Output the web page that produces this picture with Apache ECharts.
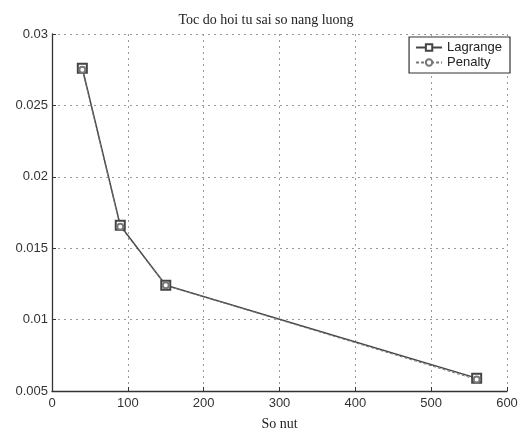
<!DOCTYPE html>
<html>
<head>
<meta charset="utf-8">
<script src="https://cdn.jsdelivr.net/npm/echarts@6/dist/echarts.min.js"></script>
<style>
  html, body { margin: 0; padding: 0; background: #fff; }
  #chart { width: 532px; height: 436px; }
</style>
</head>
<body>
<div id="chart"></div>
<script>
// so nut (number of nodes)
var soNut = [40, 90, 150, 560];
var lagrange = [0.0276, 0.0166, 0.0124, 0.0059];
var penalty = [0.0275, 0.0165, 0.0124, 0.0058];
var yTicks = [0.005, 0.01, 0.015, 0.02, 0.025, 0.03];

const toPairs = (xs, ys) => xs.map((x, i) => [x, ys[i]]);

const getOption = () => {
  return {
    backgroundColor: '#fff',
    animation: false,
    title: {
      text: 'Toc do hoi tu sai so nang luong',
      left: 'center',
      top: 8,
      textStyle: { fontFamily: 'Liberation Serif', fontSize: 14, fontWeight: 'normal', color: '#222' }
    },
    legend: {
      right: 22,
      top: 37,
      orient: 'vertical',
      itemGap: 2,
      itemWidth: 26,
      itemHeight: 8,
      padding: [4, 8, 4, 6],
      borderColor: '#333',
      borderWidth: 1.2,
      backgroundColor: '#fff',
      textStyle: { fontFamily: 'Liberation Sans', fontSize: 13, color: '#222' },
      data: ['Lagrange', 'Penalty']
    },
    grid: { left: 52, right: 25, top: 34, bottom: 42 },
    xAxis: {
      type: 'value',
      min: 0,
      max: 600,
      interval: 100,
      name: 'So nut',
      nameLocation: 'middle',
      nameGap: 26,
      nameTextStyle: { fontFamily: 'Liberation Serif', fontSize: 14, color: '#222' },
      axisLine: { lineStyle: { color: '#333', width: 1.3 } },
      axisTick: { inside: true, length: 4, lineStyle: { color: '#333' } },
      axisLabel: { fontFamily: 'Liberation Sans', fontSize: 13, color: '#333', margin: 6 },
      splitLine: { show: true, lineStyle: { color: '#999', type: [2, 4], width: 1 } }
    },
    yAxis: {
      type: 'value',
      min: 0.005,
      max: 0.03,
      interval: 0.005,
      axisLine: { show: true, lineStyle: { color: '#333', width: 1.3 } },
      axisTick: { show: true, inside: true, length: 4, lineStyle: { color: '#333' } },
      axisLabel: {
        fontFamily: 'Liberation Sans', fontSize: 13, color: '#333', margin: 4,
        formatter: v => {
          var t = yTicks.find(k => Math.abs(k - v) < 1e-9);
          return t === undefined ? '' : String(+t.toFixed(3));
        }
      },
      splitLine: { show: true, lineStyle: { color: '#999', type: [2, 4], width: 1 } }
    },
    series: [
      {
        name: 'Lagrange',
        type: 'line',
        data: toPairs(soNut, lagrange),
        symbol: 'emptyRect',
        symbolSize: 9,
        lineStyle: { color: '#444', width: 1.5 },
        itemStyle: { color: '#444', borderWidth: 1.2 }
      },
      {
        name: 'Penalty',
        type: 'line',
        data: toPairs(soNut, penalty),
        symbol: 'emptyCircle',
        symbolSize: 6,
        lineStyle: { color: '#777', width: 1, type: [3, 2] },
        itemStyle: { color: '#777', borderWidth: 1 }
      }
    ]
  };
};

const chart = echarts.init(document.getElementById('chart'));
chart.setOption(getOption());
</script>
</body>
</html>
